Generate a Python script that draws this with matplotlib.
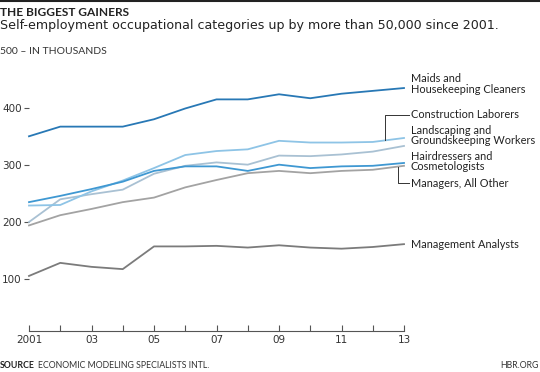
import matplotlib
matplotlib.use("Agg")
import matplotlib.pyplot as plt
import numpy as np

plt.rcParams['font.family'] = ['Lato', 'DejaVu Sans']

# data (thousands)
years = np.arange(2001, 2014)
maids = [351, 368, 368, 368, 381, 400, 416, 416, 425, 418, 426, 431, 436]
construction = [229, 230, 254, 273, 295, 318, 325, 328, 343, 340, 340, 341, 348]
landscaping = [200, 240, 249, 257, 285, 299, 305, 301, 317, 316, 319, 324, 334]
hairdressers = [235, 246, 258, 271, 290, 298, 298, 290, 301, 295, 298, 299, 304]
managers_other = [194, 212, 223, 235, 243, 261, 274, 286, 290, 286, 290, 292, 299]
mgmt_analysts = [105, 128, 121, 117, 157, 157, 158, 155, 159, 155, 153, 156, 161]

series = [
    (mgmt_analysts, '#7b7b7b'),
    (managers_other, '#a3a3a3'),
    (landscaping, '#a9c1d3'),
    (construction, '#8ec4e6'),
    (hairdressers, '#3f98d2'),
    (maids, '#2878b5'),
]

# label text and label y (data units)
labels = [
    ("Maids and\nHousekeeping Cleaners", 443),
    ("Construction Laborers", 389),
    ("Landscaping and\nGroundskeeping Workers", 353),
    ("Hairdressers and\nCosmetologists", 306),
    ("Managers, All Other", 268),
    ("Management Analysts", 161),
]

W, H = 540, 372
fig = plt.figure(figsize=(W / 100, H / 100), dpi=100)
ax = fig.add_axes([29 / W, 1 - 331 / H, (404 - 29) / W, (331 - 51.7) / H])

for vals, col in series:
    ax.plot(years, vals, color=col, lw=1.3, clip_on=False, solid_joinstyle='round')

ax.set_xlim(2001, 2013)
ax.set_ylim(8, 500)

ax.set_yticks([100, 200, 300, 400])
ax.set_xticks(years)
ax.set_xticklabels([str(y) if y == 2001 else ("%02d" % (y % 100) if y % 2 == 1 else "") for y in years])

for s in ['top', 'right', 'left']:
    ax.spines[s].set_visible(False)
ax.spines['bottom'].set_color('#555555')
ax.spines['bottom'].set_linewidth(0.8)
ax.tick_params(axis='x', direction='in', length=4, width=0.8, color='#555555',
               labelsize=7.5, labelcolor='#333333', pad=3)
ax.tick_params(axis='y', direction='out', length=3.3, width=0.8, color='#555555',
               labelsize=7.5, labelcolor='#333333', pad=2)
for t in ax.get_xticklabels() + ax.get_yticklabels():
    t.set_fontfamily(['DejaVu Sans'])

# series labels
lx = 2013.21
for text, ly in labels:
    ax.text(lx, ly, text, fontsize=7.9, color='#222222', va='center', ha='left',
            linespacing=0.92, clip_on=False)

# leader lines
cx = 2012.4
cy = np.interp(cx, years, construction)
ax.plot([2013.15, cx, cx], [389, 389, cy], color='#333333', lw=0.7, clip_on=False)
mx = 2012.8
my = np.interp(mx, years, managers_other)
ax.plot([2013.15, mx, mx], [268, 268, my], color='#333333', lw=0.7, clip_on=False)

# header, unit and footer text
fig.add_artist(plt.Line2D([0, 1], [1 - 1 / H, 1 - 1 / H], color='#222222', lw=1.5))
fig.text(0, 1 - 13 / H, "THE BIGGEST GAINERS", fontsize=8.6, fontweight='bold',
         color='#222222', va='center')
fig.text(0, 1 - 25 / H, "Self-employment occupational categories up by more than 50,000 since 2001.",
         fontsize=9.1, color='#222222', va='center', fontfamily=['DejaVu Sans'])
fig.text(0, 1 - 52 / H, "500 \u2013 IN THOUSANDS", fontsize=7.5, color='#333333', va='center')
src = fig.text(0, 1 - 366 / H, "SOURCE", fontsize=6.3, fontweight='bold', color='#222222',
               va='center')
ax.annotate("ECONOMIC MODELING SPECIALISTS INTL.", xy=(1, 0.5), xycoords=src,
            xytext=(2.5, 0), textcoords='offset points', fontsize=6.3,
            color='#333333', va='center', ha='left', annotation_clip=False)
fig.text(1 - 1 / W, 1 - 366 / H, "HBR.ORG", fontsize=6.3, color='#333333', va='center', ha='right')

fig.savefig("out.png", dpi=100)
